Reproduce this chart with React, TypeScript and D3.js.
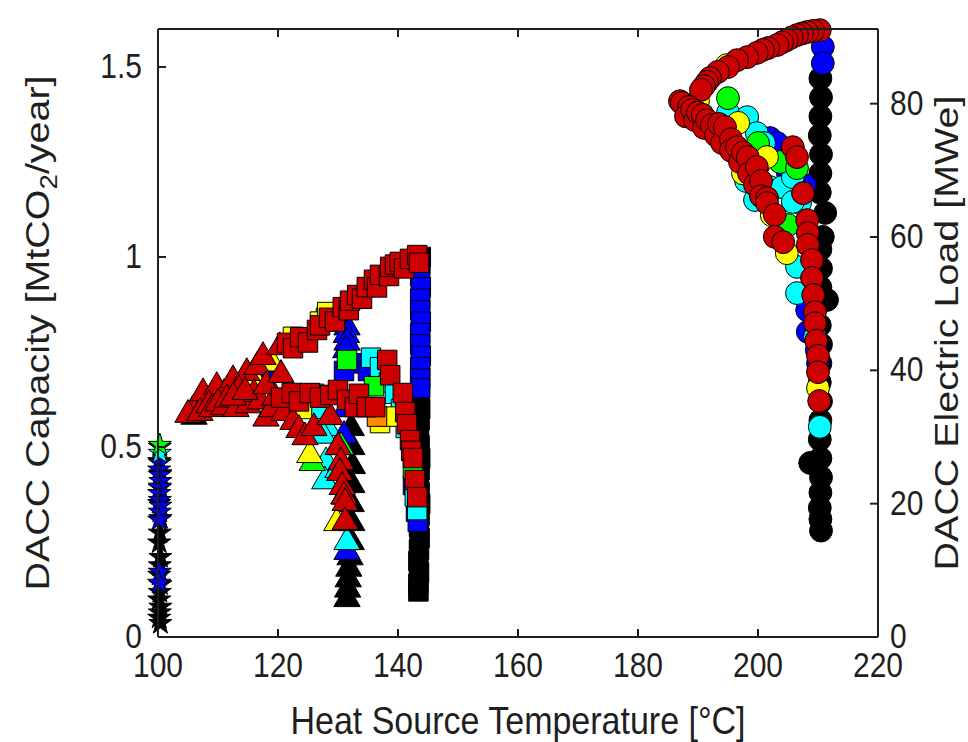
import React from "react";
import * as d3 from "d3";

type Pt = [number, number];

// ---- stars, 100 °C ----
const starBlack: Pt[] = [
  [100.3, 0.5], [100.2, 0.462], [100.4, 0.43], [100.3, 0.392], [100.2, 0.352], [100.4, 0.312],
  [100.3, 0.274], [100.2, 0.248], [100.4, 0.21], [100.3, 0.188], [100.2, 0.163], [100.4, 0.138],
  [100.3, 0.118], [100.2, 0.098], [100.4, 0.079], [100.3, 0.064], [100.2, 0.05], [100.4, 0.036],
];
const starBlue: Pt[] = [
  [100.3, 0.458], [100.2, 0.44], [100.3, 0.426], [100.4, 0.41], [100.3, 0.395], [100.2, 0.378],
  [100.3, 0.36], [100.4, 0.345], [100.3, 0.329], [100.2, 0.308], [100.3, 0.171], [100.2, 0.142],
];
const starCyan: Pt[] = [[100.3, 0.484]];
const starGreen: Pt[] = [[100.3, 0.505]];

// ---- triangles ----
const triBlack: Pt[] = [
  [106, 0.58], [132.3, 0.6], [132.2, 0.55], [132.3, 0.5], [132.4, 0.45], [132.3, 0.4], [132.2, 0.35],
  [132.3, 0.3], [132.2, 0.25], [132, 0.21], [131.8, 0.18], [131.7, 0.152], [131.6, 0.125], [131.5, 0.1],
];
const triBlue: Pt[] = [
  [131.5, 0.815], [131.4, 0.795], [131.5, 0.775], [131.3, 0.755], [118.5, 0.69], [119.5, 0.7],
  [131.3, 0.6], [131, 0.53], [131.5, 0.224], [112, 0.66], [124, 0.62],
];
const triCyan: Pt[] = [
  [126.2, 0.61], [128.2, 0.55], [127.5, 0.53], [128, 0.46], [127.8, 0.41], [130, 0.44], [131, 0.37],
  [131.5, 0.25],
];
const triGreen: Pt[] = [[108, 0.62], [110, 0.63], [125.7, 0.458], [130.5, 0.5], [121, 0.6], [106.5, 0.6]];
const triYellow: Pt[] = [[111, 0.64], [116, 0.68], [125.3, 0.479], [129.8, 0.3], [119, 0.72], [109, 0.635]];
const triRed: Pt[] = [
  [105.8, 0.597], [107.5, 0.642], [109.8, 0.658], [112.5, 0.676], [114.8, 0.695], [116.5, 0.711],
  [117.5, 0.737], [120.3, 0.763], [105, 0.585], [107, 0.59], [108.5, 0.61], [109, 0.6], [110, 0.615],
  [111, 0.605], [111.5, 0.625], [113, 0.6], [113.5, 0.65], [115, 0.61], [116, 0.64], [117, 0.62],
  [118, 0.575], [119, 0.6], [119.5, 0.63], [121, 0.59], [112.5, 0.63], [114.5, 0.645], [118, 0.66],
  [120.5, 0.69], [122.5, 0.566], [123.5, 0.545], [124.5, 0.526], [126, 0.55], [128.7, 0.579],
  [130, 0.5], [130.5, 0.46], [130.3, 0.432], [130.7, 0.395], [131, 0.37], [131.2, 0.353], [131.2, 0.303],
];

// ---- squares ----
const sqBlack: Pt[] = [
  [143.8, 1.0], [143.6, 0.63], [143.7, 0.6], [143.6, 0.57], [143.5, 0.54], [143.6, 0.505], [143.7, 0.47],
  [143.6, 0.44], [143.5, 0.41], [143.6, 0.38], [143.7, 0.35], [143.6, 0.32], [143.5, 0.29], [143.6, 0.26],
  [143.5, 0.23], [143.4, 0.2], [143.5, 0.17], [143.4, 0.14], [143.4, 0.12],
];
const sqBlue: Pt[] = [
  [143.7, 0.98], [143.7, 0.95], [143.8, 0.92], [143.7, 0.89], [143.7, 0.86], [143.8, 0.83], [143.7, 0.8],
  [143.7, 0.77], [143.8, 0.74], [143.7, 0.71], [143.7, 0.68], [143.7, 0.655], [133, 0.72], [135, 0.7],
  [131, 0.7], [142.5, 0.4], [143, 0.33], [143.3, 0.303],
];
const sqCyan: Pt[] = [
  [135.5, 0.735], [137, 0.71], [138.5, 0.67], [139.5, 0.64], [140.5, 0.6], [141.3, 0.55], [124, 0.62],
  [127, 0.6], [142.8, 0.37], [143.2, 0.334],
];
const sqGreen: Pt[] = [[131.5, 0.729], [126, 0.64], [136, 0.66], [142.5, 0.442], [129, 0.83]];
const sqYellow: Pt[] = [
  [128, 0.84], [127, 0.83], [128.2, 0.855], [137, 0.563], [139, 0.58], [124, 0.6], [122.5, 0.79],
];
const sqOrange: Pt[] = [[136.5, 0.58]];
const sqRed: Pt[] = [
  [121.5, 0.774], [122.5, 0.76], [123.7, 0.789], [125, 0.775], [126.5, 0.808], [127, 0.82], [128.5, 0.84],
  [129.5, 0.83], [130.8, 0.868], [131.8, 0.86], [132, 0.885], [133.2, 0.9], [134, 0.89], [134.8, 0.921],
  [136, 0.94], [136.5, 0.92], [137, 0.953], [138.5, 0.95], [138.7, 0.974], [139.5, 0.98], [140.3, 0.987],
  [141, 0.97], [142, 0.995], [143.2, 1.005], [143.5, 0.985], [120.5, 0.63], [122.3, 0.642], [123.5, 0.62],
  [125.3, 0.642], [127, 0.63], [128.7, 0.637], [130, 0.65], [131.5, 0.624], [132.8, 0.605],
  [133.5, 0.64], [134.8, 0.605], [136.2, 0.605], [138.2, 0.729], [138.7, 0.689], [140.8, 0.642],
  [141.2, 0.592], [141.5, 0.56], [142, 0.518], [142.2, 0.49], [142.5, 0.471], [142.8, 0.413], [143.2, 0.368],
];

// ---- circles ----
const cirBlack: Pt[] = [
  [210.4, 1.47], [210.5, 1.42], [210.4, 1.37], [210.3, 1.32], [210.5, 1.27], [210.4, 1.22], [210.3, 1.17],
  [211.2, 1.116], [210.8, 1.053], [210.4, 1.02], [210.5, 0.97], [210.4, 0.92], [211.5, 0.887], [210.3, 0.82],
  [210.5, 0.77], [210.4, 0.72], [210.3, 0.67], [210.5, 0.62], [210.4, 0.57], [210.3, 0.52], [208.7, 0.458],
  [210.4, 0.47], [210.5, 0.42], [210.4, 0.38], [210.3, 0.34], [210.4, 0.31], [210.5, 0.28],
];
const cirBlue: Pt[] = [
  [210.8, 1.553], [210.8, 1.51], [202, 1.313], [203.2, 1.3], [207.8, 1.189], [208.2, 0.86], [208.3, 0.803],
  [209.8, 0.755], [210, 0.72], [200, 1.24], [205, 1.22], [196, 1.36],
];
const cirCyan: Pt[] = [
  [195, 1.38], [198.2, 1.368], [199.8, 1.326], [201, 1.3], [202, 1.184], [204, 1.184], [205.8, 1.21],
  [207, 1.142], [205.8, 1.145], [206.5, 0.974], [206.5, 0.905], [209.5, 0.79], [210.3, 0.553],
  [198, 1.2], [199.5, 1.15],
];
const cirGreen: Pt[] = [[195, 1.418], [200, 1.3], [203.7, 1.25], [206.5, 1.234], [205, 1.084], [197, 1.27]];
const cirYellow: Pt[] = [
  [190, 1.41], [194.8, 1.505], [196.7, 1.353], [201.5, 1.263], [202.3, 1.11], [204.8, 1.01], [210, 0.655],
  [197.5, 1.22],
];
const cirRed: Pt[] = [
  [210.3, 1.597], [209.2, 1.595], [208.2, 1.592], [207.3, 1.588], [206.5, 1.584], [205.6, 1.578],
  [204.8, 1.571], [204, 1.565], [203.2, 1.558], [201.7, 1.55], [200.8, 1.545], [199.8, 1.537],
  [198.2, 1.526], [196.5, 1.518], [195, 1.5], [193.3, 1.487], [192, 1.471], [191.5, 1.461], [191, 1.45],
  [190.5, 1.44], [187, 1.41], [187.3, 1.405], [188.5, 1.395], [188, 1.37], [189, 1.387], [189.5, 1.36],
  [190, 1.38], [190.8, 1.374], [191, 1.34], [191.5, 1.36], [192.3, 1.347], [193, 1.32], [193.5, 1.35],
  [194, 1.3], [194.5, 1.342], [195.5, 1.31], [195.5, 1.28], [196.5, 1.289], [197, 1.25], [197.5, 1.275],
  [198.3, 1.263], [198.5, 1.22], [199.5, 1.19], [199.8, 1.237], [200.5, 1.2], [200.5, 1.16],
  [201.5, 1.155], [201.5, 1.142], [202.8, 1.111], [202.8, 1.053], [204.2, 1.039], [205.8, 1.289],
  [206.5, 1.263], [207.5, 1.168], [208.2, 1.097], [208.3, 1.063], [208.3, 1.032], [209, 0.992],
  [209, 0.945], [209.2, 0.9], [209.5, 0.855], [209.5, 0.826], [209.7, 0.78], [210, 0.74], [210, 0.697],
  [210.2, 0.621],
];

const xTicks = [100, 120, 140, 160, 180, 200, 220];
const yLeftTicks = [0, 0.5, 1, 1.5];
const yRightTicks = [0, 20, 40, 60, 80];

const FONT = "'Liberation Sans', Arial, Helvetica, sans-serif";
const INK = "#1f1f1f";
const STRETCH = 1.16; // the figure is taller than the font's natural proportions

const x = d3.scaleLinear().domain([100, 220]).range([158, 878]);
const yL = d3.scaleLinear().domain([0, 1.6]).range([637, 29]);
const yR = d3.scaleLinear().domain([0, 91.2]).range([637, 29]);

const shapes = {
  star: d3.symbol(d3.symbolStar, 165)() as string,
  tri: d3.symbol(d3.symbolTriangle, 300)() as string,
  sq: d3.symbol(d3.symbolSquare, 380)() as string,
  cir: d3.symbol(d3.symbolCircle, 410)() as string,
};

const C = {
  black: "#000000",
  blue: "#0000ff",
  cyan: "#00ffff",
  green: "#00ff00",
  yellow: "#ffff00",
  orange: "#ff8c00",
  red: "#cc0000",
};

// drawn in this order, red last (on top)
const layers: { color: string; shape: keyof typeof shapes; pts: Pt[] }[] = [
  { color: C.black, shape: "star", pts: starBlack },
  { color: C.black, shape: "tri", pts: triBlack },
  { color: C.black, shape: "sq", pts: sqBlack },
  { color: C.black, shape: "cir", pts: cirBlack },
  { color: C.blue, shape: "star", pts: starBlue },
  { color: C.blue, shape: "tri", pts: triBlue },
  { color: C.blue, shape: "sq", pts: sqBlue },
  { color: C.blue, shape: "cir", pts: cirBlue },
  { color: C.cyan, shape: "star", pts: starCyan },
  { color: C.cyan, shape: "tri", pts: triCyan },
  { color: C.cyan, shape: "sq", pts: sqCyan },
  { color: C.cyan, shape: "cir", pts: cirCyan },
  { color: C.green, shape: "star", pts: starGreen },
  { color: C.green, shape: "tri", pts: triGreen },
  { color: C.green, shape: "sq", pts: sqGreen },
  { color: C.green, shape: "cir", pts: cirGreen },
  { color: C.yellow, shape: "tri", pts: triYellow },
  { color: C.yellow, shape: "sq", pts: sqYellow },
  { color: C.yellow, shape: "cir", pts: cirYellow },
  { color: C.orange, shape: "sq", pts: sqOrange },
  { color: C.red, shape: "tri", pts: triRed },
  { color: C.red, shape: "sq", pts: sqRed },
  { color: C.red, shape: "cir", pts: cirRed },
];

// horizontal text, stretched vertically about its baseline
function HText(props: { x: number; y: number; anchor: string; size: number; children: React.ReactNode }) {
  return (
    <text
      transform={`translate(${props.x},${props.y}) scale(1,${STRETCH})`}
      textAnchor={props.anchor}
      fontSize={props.size}
    >
      {props.children}
    </text>
  );
}

export default function App() {
  const [x0, x1] = x.range();
  const [yb, yt] = yL.range();
  const tl = 8;
  const yMid = (yb + yt) / 2;

  return (
    <svg
      width={968}
      height={742}
      style={{ position: "absolute", left: 0, top: 0, background: "#fff" }}
      fontFamily={FONT}
    >
      <rect width={968} height={742} fill="#fff" />

      {/* markers */}
      {layers.map((l, i) => (
        <g key={i} fill={l.color} stroke="#000" strokeWidth={1}>
          {l.pts.map((p, j) => (
            <path key={j} d={shapes[l.shape]} transform={`translate(${x(p[0])},${yL(p[1])})`} />
          ))}
        </g>
      ))}

      {/* axes box */}
      <g stroke={INK} strokeWidth={2} fill="none">
        <line x1={x0} x2={x1} y1={yb} y2={yb} />
        <line x1={x0} x2={x1} y1={yt} y2={yt} />
        <line x1={x0} x2={x0} y1={yt} y2={yb} />
        <line x1={x1} x2={x1} y1={yt} y2={yb} />
        {xTicks.map((t) => (
          <g key={t}>
            <line x1={x(t)} x2={x(t)} y1={yb} y2={yb - tl} />
            <line x1={x(t)} x2={x(t)} y1={yt} y2={yt + tl} />
          </g>
        ))}
        {yLeftTicks.map((t) => (
          <line key={t} x1={x0} x2={x0 + tl} y1={yL(t)} y2={yL(t)} />
        ))}
        {yRightTicks.map((t) => (
          <line key={t} x1={x1} x2={x1 - tl} y1={yR(t)} y2={yR(t)} />
        ))}
      </g>

      {/* tick labels */}
      <g fill={INK}>
        {xTicks.map((t) => (
          <HText key={t} x={x(t)} y={677} anchor="middle" size={30}>
            {t}
          </HText>
        ))}
        {yLeftTicks.map((t) => (
          <HText key={t} x={x0 - 16} y={yL(t) + 11} anchor="end" size={30}>
            {t}
          </HText>
        ))}
        {yRightTicks.map((t) => (
          <HText key={t} x={x1 + 12} y={yR(t) + 11} anchor="start" size={30}>
            {t}
          </HText>
        ))}
      </g>

      {/* axis titles */}
      <g fill={INK}>
        <HText x={(x0 + x1) / 2} y={734} anchor="middle" size={34}>
          Heat Source Temperature [°C]
        </HText>
        <text
          transform={`translate(49,${yMid}) scale(1,${STRETCH}) rotate(-90)`}
          textAnchor="middle"
          fontSize={34}
        >
          DACC Capacity [MtCO
          <tspan fontSize={24} dy={8}>2</tspan>
          <tspan dy={-8}>/year]</tspan>
        </text>
        <text
          transform={`translate(958,${yMid}) scale(1,${STRETCH}) rotate(-90)`}
          textAnchor="middle"
          fontSize={34}
        >
          DACC Electric Load [MWe]
        </text>
      </g>
    </svg>
  );
}
